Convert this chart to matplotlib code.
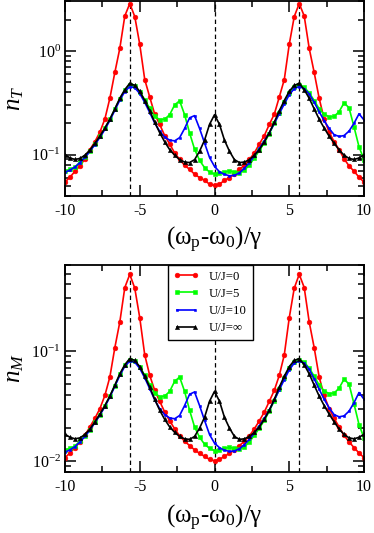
import numpy as np
import matplotlib
matplotlib.use('Agg')
import matplotlib.pyplot as plt
import matplotlib.ticker as ticker

# detuning grid (omega_p - omega_0)/gamma, step 1/3
x = np.linspace(-10, 10, 61)
mode_lines = [-5.66, 0.0, 5.66]
labels = ['U/J=0', 'U/J=5', 'U/J=10', 'U/J=\u221e']

# n_M (lower panel)
red_m = [0.0108, 0.0119, 0.0133, 0.0150, 0.0172, 0.0205, 0.0245, 0.0300, 0.0395, 0.0580,
         0.107, 0.183, 0.375, 0.494, 0.370, 0.200, 0.092, 0.060, 0.044, 0.035,
         0.028, 0.0233, 0.0197, 0.0170, 0.0152, 0.0139, 0.0127, 0.0118, 0.0111, 0.0104,
         0.0101,
         0.0104, 0.0111, 0.0118, 0.0127, 0.0139, 0.0152, 0.0170, 0.0197, 0.0233, 0.028,
         0.035, 0.044, 0.060, 0.092, 0.200, 0.370, 0.494, 0.375, 0.183, 0.107,
         0.0580, 0.0395, 0.0300, 0.0245, 0.0205, 0.0172, 0.0150, 0.0133, 0.0119, 0.0108]
green_m = [0.0126, 0.0131, 0.0137, 0.0153, 0.0170, 0.0193, 0.0226, 0.0265, 0.0318, 0.0388,
           0.0485, 0.0612, 0.0740, 0.0835, 0.0810, 0.0715, 0.0600, 0.0495, 0.0415, 0.0385,
           0.0390, 0.0430, 0.0530, 0.0580, 0.0430, 0.0290, 0.0205, 0.0165, 0.0143, 0.0131,
           0.0125,
           0.0127, 0.0131, 0.0134, 0.0131, 0.0129, 0.0135, 0.0150, 0.0172, 0.0200, 0.0235,
           0.0285, 0.0355, 0.0450, 0.0570, 0.0700, 0.0800, 0.0835, 0.0790, 0.0700, 0.0590,
           0.0490, 0.0435, 0.0410, 0.0415, 0.0460, 0.0555, 0.0500, 0.0330, 0.0215, 0.0163]
blue_m = [0.0121, 0.0127, 0.0136, 0.0150, 0.0168, 0.0192, 0.0224, 0.0262, 0.0313, 0.0382,
          0.0478, 0.0600, 0.0725, 0.0810, 0.0790, 0.0695, 0.0570, 0.0455, 0.0360, 0.0300,
          0.0265, 0.0247, 0.0243, 0.0260, 0.0320, 0.0405, 0.0425, 0.0320, 0.0235, 0.0175,
          0.0146,
          0.0133, 0.0126, 0.0123, 0.0124, 0.0130, 0.0142, 0.0158, 0.0180, 0.0210, 0.0245,
          0.0292, 0.0358, 0.0445, 0.0550, 0.0675, 0.0775, 0.0810, 0.0775, 0.0680, 0.0560,
          0.0450, 0.0365, 0.0305, 0.0265, 0.0253, 0.0258, 0.0285, 0.0340, 0.0420, 0.0365]
black_m = [0.0176, 0.0165, 0.0160, 0.0163, 0.0175, 0.0196, 0.0228, 0.0268, 0.0320, 0.0390,
           0.0490, 0.0620, 0.0750, 0.0853, 0.0820, 0.0720, 0.0590, 0.0470, 0.0365, 0.0290,
           0.0240, 0.0205, 0.0183, 0.0168, 0.0160, 0.0158, 0.0168, 0.0200, 0.0250, 0.0350,
           0.0430,
           0.0350, 0.0250, 0.0200, 0.0168, 0.0158, 0.0160, 0.0168, 0.0183, 0.0205, 0.0240,
           0.0290, 0.0365, 0.0470, 0.0590, 0.0720, 0.0820, 0.0853, 0.0750, 0.0620, 0.0490,
           0.0390, 0.0320, 0.0268, 0.0228, 0.0196, 0.0175, 0.0163, 0.0160, 0.0165, 0.0176]

# n_T (upper panel)
red_t = [0.0545, 0.0607, 0.0692, 0.078, 0.0912, 0.112, 0.1335, 0.165, 0.221, 0.35,
         0.621, 1.061, 2.175, 2.865, 2.146, 1.16, 0.53, 0.36, 0.246, 0.196,
         0.153, 0.127, 0.104, 0.090, 0.079, 0.0723, 0.0648, 0.0602, 0.0566, 0.052,
         0.0505,
         0.052, 0.0566, 0.0602, 0.0648, 0.0723, 0.079, 0.090, 0.104, 0.127, 0.153,
         0.196, 0.246, 0.36, 0.53, 1.16, 2.146, 2.865, 2.175, 1.061, 0.621,
         0.35, 0.221, 0.165, 0.1335, 0.112, 0.0912, 0.078, 0.0692, 0.0607, 0.0545]
green_t = [0.0693, 0.0721, 0.0754, 0.0849, 0.0952, 0.108, 0.128, 0.150, 0.180, 0.219,
           0.274, 0.346, 0.418, 0.472, 0.458, 0.404, 0.339, 0.280, 0.234, 0.218,
           0.220, 0.243, 0.302, 0.331, 0.243, 0.162, 0.113, 0.0883, 0.0751, 0.0681,
           0.0650,
           0.0660, 0.0681, 0.0697, 0.0681, 0.0671, 0.0709, 0.0795, 0.0929, 0.110, 0.130,
           0.160, 0.201, 0.254, 0.322, 0.396, 0.452, 0.472, 0.446, 0.396, 0.333,
           0.277, 0.246, 0.232, 0.234, 0.260, 0.316, 0.283, 0.185, 0.119, 0.0897]
blue_t = [0.0678, 0.0711, 0.0762, 0.0840, 0.0941, 0.108, 0.125, 0.147, 0.175, 0.214,
          0.268, 0.336, 0.406, 0.454, 0.442, 0.389, 0.319, 0.255, 0.202, 0.168,
          0.148, 0.138, 0.136, 0.146, 0.179, 0.227, 0.238, 0.179, 0.130, 0.094,
          0.077,
          0.0685, 0.0645, 0.0627, 0.0632, 0.0668, 0.0740, 0.0840, 0.0972, 0.115, 0.136,
          0.163, 0.200, 0.249, 0.308, 0.378, 0.434, 0.454, 0.434, 0.385, 0.320,
          0.260, 0.213, 0.179, 0.156, 0.150, 0.153, 0.169, 0.201, 0.248, 0.216]
black_t = [0.100, 0.093, 0.090, 0.092, 0.099, 0.111, 0.129, 0.151, 0.181, 0.220,
           0.277, 0.350, 0.424, 0.488, 0.466, 0.408, 0.333, 0.265, 0.206, 0.163,
           0.133, 0.112, 0.099, 0.0895, 0.085, 0.084, 0.0895, 0.108, 0.138, 0.196,
           0.243,
           0.196, 0.138, 0.108, 0.0895, 0.084, 0.085, 0.0895, 0.099, 0.112, 0.133,
           0.163, 0.206, 0.265, 0.333, 0.408, 0.466, 0.488, 0.424, 0.350, 0.277,
           0.220, 0.181, 0.151, 0.129, 0.111, 0.099, 0.092, 0.090, 0.093, 0.100]

plt.rcParams['font.family'] = ['Liberation Serif', 'DejaVu Serif']
plt.rcParams['mathtext.fontset'] = 'custom'
plt.rcParams['mathtext.rm'] = 'Liberation Serif'
plt.rcParams['mathtext.it'] = 'Liberation Serif:italic'
plt.rcParams['mathtext.bf'] = 'Liberation Serif:bold'
plt.rcParams['axes.unicode_minus'] = False

styles = [('#ff0000', 'o', 3.4), ('#00ff00', 's', 2.9), ('#0000ff', 's', 1.6), ('#000000', '^', 3.0)]


def draw(ax, series, ylim, ylabel):
    for xv in mode_lines:
        ax.axvline(xv, color='k', ls=(0, (3.5, 2.5)), lw=0.9, zorder=1)
    for (c, m, ms), yv, lab in zip(styles, series, labels):
        ax.plot(x, yv, color=c, marker=m, ms=ms, mec=c, mew=0.4, lw=1.2, label=lab)
    ax.set_yscale('log')
    ax.set_xlim(-10, 10)
    ax.set_ylim(ylim)
    ax.xaxis.set_major_locator(ticker.MultipleLocator(5))
    ax.xaxis.set_minor_locator(ticker.MultipleLocator(2.5))
    ax.yaxis.set_minor_locator(ticker.LogLocator(subs=np.arange(2, 10), numticks=20))
    ax.yaxis.set_minor_formatter(ticker.NullFormatter())
    ax.tick_params(which='both', direction='in', top=True, right=True, labelsize=11.5, width=1.1)
    ax.tick_params(which='major', length=8, pad=5)
    ax.tick_params(which='minor', length=4.5)
    ax.tick_params(axis='y', pad=3)
    for sp in ax.spines.values():
        sp.set_linewidth(1.3)
    ax.set_xlabel(r'(ω$_{\rm p}$-ω$_{\rm 0}$)/γ', fontsize=18)
    ax.xaxis.set_label_coords(0.5, -0.15)
    ax.set_ylabel(ylabel, fontsize=18)
    ax.yaxis.set_label_coords(-0.13, 0.5)


fig = plt.figure(figsize=(3.74, 5.33), dpi=100)
ax_t = fig.add_axes([0.1738, 0.6323, 0.7995, 0.3649])
ax_m = fig.add_axes([0.1738, 0.1144, 0.7995, 0.3884])

draw(ax_t, [red_t, green_t, blue_t, black_t], (0.04, 3.0), r'$n_T$')
draw(ax_m, [red_m, green_m, blue_m, black_m], (0.008, 0.6), r'$n_M$')

leg = ax_m.legend(loc='upper left', bbox_to_anchor=(0.343, 1.0), fontsize=9.2,
                  numpoints=2, handlelength=2.0, handletextpad=0.8, labelspacing=0.4,
                  borderpad=0.45, borderaxespad=0, fancybox=False, framealpha=1,
                  edgecolor='black')
leg.get_frame().set_linewidth(1.0)

fig.savefig('out.png', dpi=100)
